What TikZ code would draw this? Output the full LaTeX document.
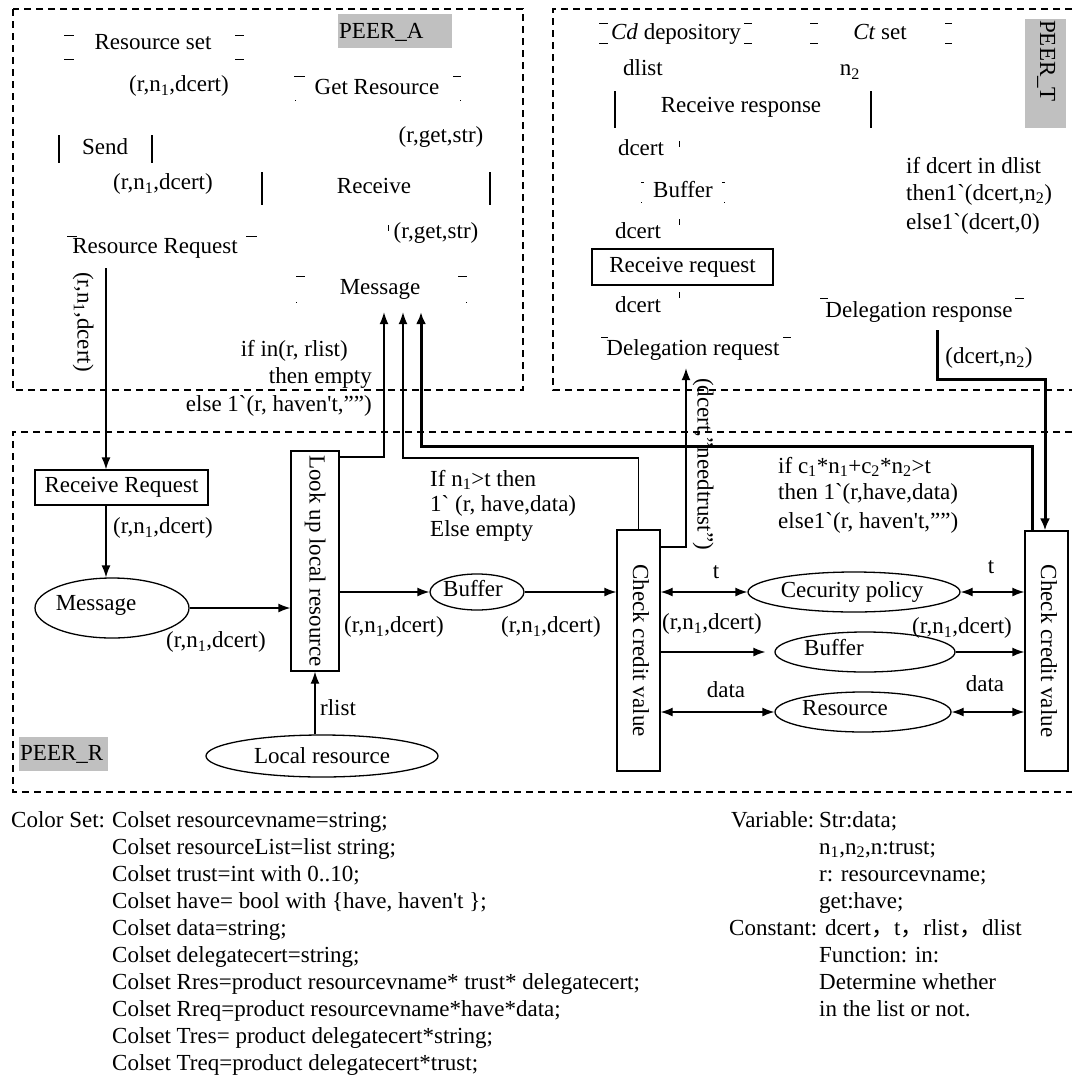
\documentclass[tikz,border=0pt]{standalone}
\usepackage{fontspec}
\usetikzlibrary{arrows.meta,shapes.geometric,calc}
\newfontfamily\lf{Liberation Serif}
\newfontfamily\cjk{Noto Sans CJK SC}
\newcommand\tfont{\lf\fontsize{23}{27}\selectfont}
\newcommand\sbs[1]{\textsubscript{#1}}
\newcommand\wcomma{{\cjk ，}}
\definecolor{labelgray}{RGB}{192,192,192}

\tikzset{
  txt/.style={inner sep=0pt, text height=15pt, text depth=4pt},
  lbl/.style={inner sep=0pt, anchor=base west},
  lble/.style={inner sep=0pt, anchor=base east},
  box/.style={draw, line width=1.3pt, inner sep=0pt},
  place/.style={draw, ellipse, line width=1.3pt, inner sep=0pt},
  edge/.style={line width=1.3pt},
  arr/.style={line width=1.3pt, -{Latex[length=12pt,width=9pt]}},
  biarr/.style={line width=1.3pt, {Latex[length=12pt,width=9pt]}-{Latex[length=12pt,width=9pt]}},
  arrthick/.style={line width=3pt, -{Latex[length=12pt,width=10pt]}},
  frame/.style={line width=1.2pt, dash pattern=on 7pt off 5pt},
  tick/.style={line width=1pt},
  peer/.style={fill=labelgray, inner sep=0pt, anchor=north west},
}

\begin{document}
\begin{tikzpicture}[x=1pt,y=-1pt,font=\tfont]
\useasboundingbox (0,0) rectangle (1072,1079);
\fill[white] (0,0) rectangle (1072,1079);

% ---------- module frames ----------
\draw[frame] (13,9) rectangle (523,390);
\draw[frame] (1072,9) -- (553,9) -- (553,390) -- (1072,390);
\draw[frame] (1072,432) -- (13,432) -- (13,792) -- (1072,792);

% module tags
\node[peer, minimum width=114, minimum height=34] (pa) at (338,14) {};
\node[lbl] at (339,38) {PEER\_A};
\node[peer, minimum width=41, minimum height=109] (pt) at (1025,19) {};
\node[rotate=-90, anchor=base west, inner sep=0pt] at (1040,20) {PEER\_T};
\node[peer, minimum width=89, minimum height=34] (pr) at (19,737) {};
\node[lbl] at (20,760) {PEER\_R};

% ---------- PEER_A ----------
\node[txt] (rset) at (153,44) {Resource set};
\draw[tick] (64,35) -- (74,35) (64,59) -- (74,59) (235,35) -- (244,35) (235,59) -- (244,59);
\node[txt] at (179,86) {(r,n\sbs{1},dcert)};
\node[txt] (getres) at (377,89) {Get Resource};
\draw[tick] (294,76) -- (305,76) (453,76) -- (461,76) (295,100) -- (296,100) (460,100) -- (461,100);
\node[txt] at (441,137) {(r,get,str)};
\node[txt] (send) at (105,149) {Send};
\draw[edge] (59,135) -- (59,163) (152,135) -- (152,163);
\node[txt] at (163,184) {(r,n\sbs{1},dcert)};
\node[txt] (recv) at (374,188) {Receive};
\draw[edge] (262,172) -- (262,205) (490,172) -- (490,205);
\node[txt] at (436,233) {(r,get,str)};
\draw[tick] (388,225) -- (388,231);
\node[txt, minimum height=40] (rreqA) at (155,248) {Resource Request};
\draw[tick] (67,236) -- (77,236) (246,236) -- (257,236);
\node[txt, rotate=-90] at (83,322) {(r,n\sbs{1},dcert)};
\node[txt, minimum height=46] (msgA) at (380,289) {Message};
\draw[tick] (296,276) -- (305,276) (458,276) -- (467,276) (296,302) -- (297,302) (466,302) -- (467,302);
\node[lble] at (348,356) {if in(r, rlist)};
\node[lble] at (372,383) {then empty};
\node[lble] at (372,411) {else 1`(r, haven't,””)};

% ---------- PEER_T ----------
\node[txt] (cdd) at (676,34) {\textit{Cd} depository};
\draw[tick] (599,23) -- (608,23) (599,43) -- (608,43) (744,23) -- (752,23) (744,43) -- (752,43);
\node[txt] (cts) at (880,34) {\textit{Ct} set};
\draw[tick] (810,23) -- (818,23) (810,43) -- (818,43) (945,23) -- (952,23) (945,43) -- (952,43);
\node[txt] at (643,70) {dlist};
\node[txt] at (850,70) {n\sbs{2}};
\node[txt] (rresp) at (741,107) {Receive response};
\draw[edge] (615,91) -- (615,128) (871,91) -- (871,128);
\node[txt] at (641,150) {dcert};
\draw[tick] (679,141) -- (679,147);
\node[txt] (bufT) at (683,192) {Buffer};
\draw[tick] (641,182) -- (644,182) (722,182) -- (725,182) (641,202) -- (642,202) (724,202) -- (725,202);
\node[txt] at (638,233) {dcert};
\draw[tick] (679,219) -- (679,225);
\node[box, minimum width=181, minimum height=36] (rrqT) at (682.5,267) {Receive request};
\node[txt] at (638,307) {dcert};
\draw[tick] (679,292) -- (679,298);
\node[txt, minimum height=36] (dreq) at (693,350) {Delegation request};
\draw[tick] (601,337) -- (608,337) (783,337) -- (791,337);
\node[txt, minimum height=36] (dresp) at (919,312) {Delegation response};
\draw[tick] (820,298) -- (828,298) (1015,298) -- (1024,298);
\node[txt] at (989,358) {(dcert,n\sbs{2})};
\node[lbl] at (906,173) {if dcert in dlist};
\node[lbl] at (906,200) {then1`(dcert,n\sbs{2})};
\node[lbl] at (906,229) {else1`(dcert,0)};

% ---------- PEER_R ----------
\node[box, minimum width=173, minimum height=35] (rrq) at (121.5,487.5) {Receive Request};
\node[place, minimum width=154, minimum height=60] (msgR) at (112,608) {};
\node[txt] at (96,605) {Message};
\node[box, minimum width=48, minimum height=220] (lookup) at (315,561) {};
\node[txt, rotate=-90] at (lookup) {Look up local resource};
\node[place, minimum width=94, minimum height=36] (bufR) at (477,592) {};
\node[txt] at (473,591) {Buffer};
\node[place, minimum width=232, minimum height=42] (locres) at (322,756) {Local resource};
\node[box, minimum width=43, minimum height=241] (checkL) at (638.5,650.5) {};
\node[txt, rotate=-90] at (checkL) {Check credit value};
\node[box, minimum width=43, minimum height=240] (checkR) at (1046.5,651) {};
\node[txt, rotate=-90] at (checkR) {Check credit value};
\node[place, minimum width=212, minimum height=40] (sec) at (854,592) {};
\node[txt] at (852,592) {Cecurity policy};
\node[place, minimum width=180, minimum height=40] (bufB) at (865,652) {};
\node[txt] at (834,650) {Buffer};
\node[place, minimum width=176, minimum height=40] (res) at (863,712) {};
\node[txt] at (845,710) {Resource};

% arc inscriptions
\node[txt] at (163,528) {(r,n\sbs{1},dcert)};
\node[txt] at (216,642) {(r,n\sbs{1},dcert)};
\node[txt] at (394,627) {(r,n\sbs{1},dcert)};
\node[txt] at (551,627) {(r,n\sbs{1},dcert)};
\node[txt] at (338,710) {rlist};
\node[txt] at (716,573) {t};
\node[txt] at (991,568) {t};
\node[txt] at (712,624) {(r,n\sbs{1},dcert)};
\node[txt] at (962,628) {(r,n\sbs{1},dcert)};
\node[txt] at (726,692) {data};
\node[txt] at (985,686) {data};
\node[lbl] at (430,486) {If n\sbs{1}>t then};
\node[lbl] at (430,511) {1` (r, have,data)};
\node[lbl] at (430,536) {Else empty};
\node[lbl] at (778,473) {if c\sbs{1}*n\sbs{1}+c\sbs{2}*n\sbs{2}>t};
\node[lbl] at (778,499) {then 1`(r,have,data)};
\node[lbl] at (778,528) {else1`(r, haven't,””)};

% ---------- arcs ----------
\coordinate (cx) at (106,0);
\draw[arr] (rreqA.south -| cx) -- (rrq.north -| cx);
\draw[arr] (rrq.south -| cx) -- (msgR.north -| cx);
\draw[arr] (msgR.east) -- (msgR.east -| lookup.west);
\draw[arr] (bufR.west -| lookup.east) -- (bufR.west);
\draw[arr] (bufR.east) -- (bufR.east -| checkL.west);
\draw[arr] (locres.north -| lookup.south) -- (lookup.south);
\draw[biarr] (sec.west -| checkL.east) -- (sec.west);
\draw[biarr] (sec.east) -- (sec.east -| checkR.west);
\draw[arr] (bufB.west -| checkL.east) -- ($(bufB.west)+(-9,0)$);
\draw[arr] (bufB.east) -- (bufB.east -| checkR.west);
\draw[biarr] (res.west -| checkL.east) -- (res.west);
\draw[biarr] (res.east) -- (res.east -| checkR.west);

% arcs between the peers
\coordinate (m1) at (384,457);
\coordinate (m2) at (403,458);
\coordinate (m3) at (421,446);
\coordinate (c3) at (1032,446);
\draw[arr] (lookup.east |- m1) -- (m1) -- (m1 |- msgA.south);
\draw[arr] (checkL.north) |- (m2) -- (m2 |- msgA.south);
\draw[arrthick] (c3 |- checkR.north) -- (c3) -- (m3) -- (m3 |- msgA.south);
\coordinate (dq) at (686,547);
\draw[arr] (checkL.east |- dq) -- (dq) -- (dq |- dreq.south);
\node[txt, rotate=-90] at (703,464) {(dcert,”needtrust”)};
\coordinate (dr) at (937,379);
\coordinate (dr2) at (1045,379);
\draw[arrthick] (dresp.south -| dr) -- (dr) -- (dr2) -- (dr2 |- checkR.north);

% ---------- declarations ----------
\node[lbl] at (11,827) {Color Set:};
\foreach \t [count=\i from 0] in {
  {Colset resourcevname=string;},
  {Colset resourceList=list string;},
  {Colset trust=int with 0..10;},
  {Colset have= bool with \{have, haven't \};},
  {Colset data=string;},
  {Colset delegatecert=string;},
  {Colset Rres=product resourcevname* trust* delegatecert;},
  {Colset Rreq=product resourcevname*have*data;},
  {Colset Tres= product delegatecert*string;},
  {Colset Treq=product delegatecert*trust;}}
  \node[lbl] at (112,827+27*\i) {\t};

\node[lbl] at (731,827) {Variable:};
\node[lbl] at (819,827) {Str:data;};
\node[lbl] at (819,854) {n\sbs{1},n\sbs{2},n:trust;};
\node[lbl] at (819,881) {r: resourcevname;};
\node[lbl] at (819,908) {get:have;};
\node[lbl] at (729,935) {Constant: dcert\wcomma t\wcomma rlist\wcomma dlist};
\node[lbl] at (819,962) {Function: in:};
\node[lbl] at (819,989) {Determine whether};
\node[lbl] at (819,1016) {in the list or not.};
\end{tikzpicture}
\end{document}
